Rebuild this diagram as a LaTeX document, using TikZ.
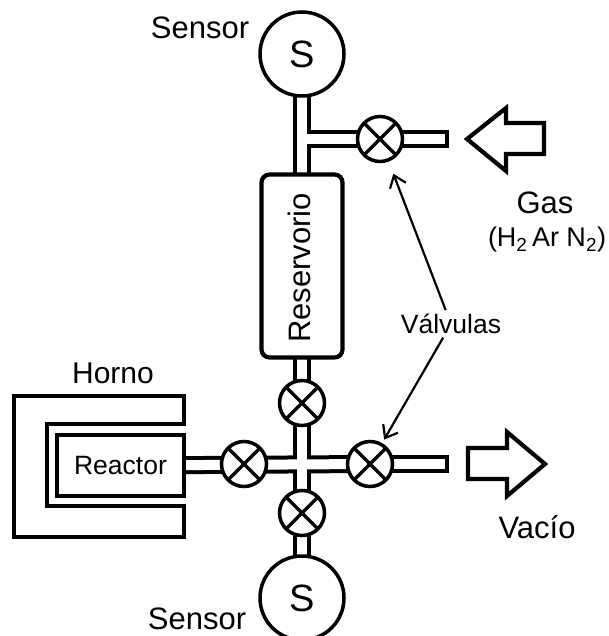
\documentclass[tikz,border=0pt]{standalone}
\usepackage{fontspec}
\setmainfont{Liberation Sans}
\usetikzlibrary{arrows.meta}

\tikzset{
	txt/.style={inner sep=1pt, font=\fontsize{#1}{#1}\selectfont},
	sensor/.style={circle, draw, fill=white, line width=3.5pt, minimum size=84pt, inner sep=0pt, font=\fontsize{38}{38}\selectfont},
	valve/.style={circle, draw, fill=white, line width=3.5pt, minimum size=45pt, inner sep=0pt,
		path picture={
			\draw[line width=3.5pt] (path picture bounding box.south west) -- (path picture bounding box.north east);
			\draw[line width=3.5pt] (path picture bounding box.north west) -- (path picture bounding box.south east);
		}},
	wall/.style={draw, line width=4.2pt},
	flecha/.style={line width=2.2pt, -{Straight Barb[length=11pt, width=17pt, line width=2.2pt]}},
}

\begin{document}
\begin{tikzpicture}[x=1pt, y=-1pt]
		\useasboundingbox (0, 0) rectangle (608, 636);
		% puntos de paso de las tuberias
		\coordinate (supS) at (302, 54);
		\coordinate (tee) at (302, 139);
		\coordinate (cruz) at (302, 464);
		\coordinate (infS) at (302, 598);
		\coordinate (gasend) at (449, 139);
		\coordinate (vacend) at (449, 464);
		\coordinate (resC) at (302, 266);
		\coordinate (reacC) at (120.5, 465.5);
		\coordinate (vgasC) at (380, 139);
		\coordinate (vresC) at (302, 403);
		\coordinate (vizqC) at (244, 464);
		\coordinate (vderC) at (370, 464);
		\coordinate (vinfC) at (302, 513);
		% tuberias: primero el contorno negro, luego el interior blanco
		\foreach \a/\b in {supS/resC, tee/vgasC, vgasC/gasend, resC/infS, reacC/vderC, vderC/vacend} {
				\draw[line width=18pt] (\a) -- (\b);
			}
		\foreach \a/\b in {supS/resC, tee/vgasC, vgasC/gasend, resC/infS, reacC/vderC, vderC/vacend} {
				\draw[line width=10pt, white, shorten >=4pt] (\a) -- (\b);
			}
		% horno
		\draw[wall, miter limit=10] (184, 424) -- (184, 396) -- (14, 396) -- (14, 537) -- (184, 537) -- (184, 506) -- (47, 506) -- (47, 424) -- cycle;
		\node[txt=30] (horno) at (113, 373) {Horno};
		% reactor y reservorio
		\node[wall, fill=white, minimum width=127pt, minimum height=61pt, inner sep=0pt, font=\fontsize{26.5}{26.5}\selectfont] (reactor) at (reacC) {Reactor};
		\node[wall, fill=white, rounded corners=8pt, minimum width=81pt, minimum height=183pt, inner sep=0pt] (reservorio) at (resC) {};
		\node[txt=31, rotate=90] (resLabel) at (299, 268) {Reservorio};
		% sensores
		\node[sensor] (sup) at (supS) {S};
		\node[sensor] (inf) at (infS) {S};
		\node[txt=31] (sensorA) at (200, 28) {Sensor};
		\node[txt=31] (sensorB) at (197, 619) {Sensor};
		% valvulas
		\foreach \n in {vgas, vres, vizq, vder, vinf} {
				\node[valve] (\n) at (\n C) {};
			}
		% flechas anchas de gas y vacio
		\draw[wall] (467, 139) -- (506, 108) -- (506, 123) -- (544, 123) -- (544, 154) -- (506, 154) -- (506, 171) -- cycle;
		\draw[wall] (468, 448) -- (507, 448) -- (507, 432) -- (545, 464) -- (507, 496) -- (507, 479) -- (468, 479) -- cycle;
		\node[txt=31] (gas) at (545, 203) {Gas};
		\node[txt=27] (mezcla) at (547, 240) {(H\textsubscript{2}\,Ar N\textsubscript{2})};
		\node[txt=31] (vacio) at (537, 527) {Vacío};
		% rotulo de las valvulas
		\node[txt=26.5] (valvulas) at (451, 324) {Válvulas};
		\draw[flecha, shorten <=3pt, shorten >=13pt] (valvulas) -- (vgas);
		\draw[flecha, shorten <=3pt, shorten >=4pt] (valvulas) -- (vder);
	\end{tikzpicture}
\end{document}
